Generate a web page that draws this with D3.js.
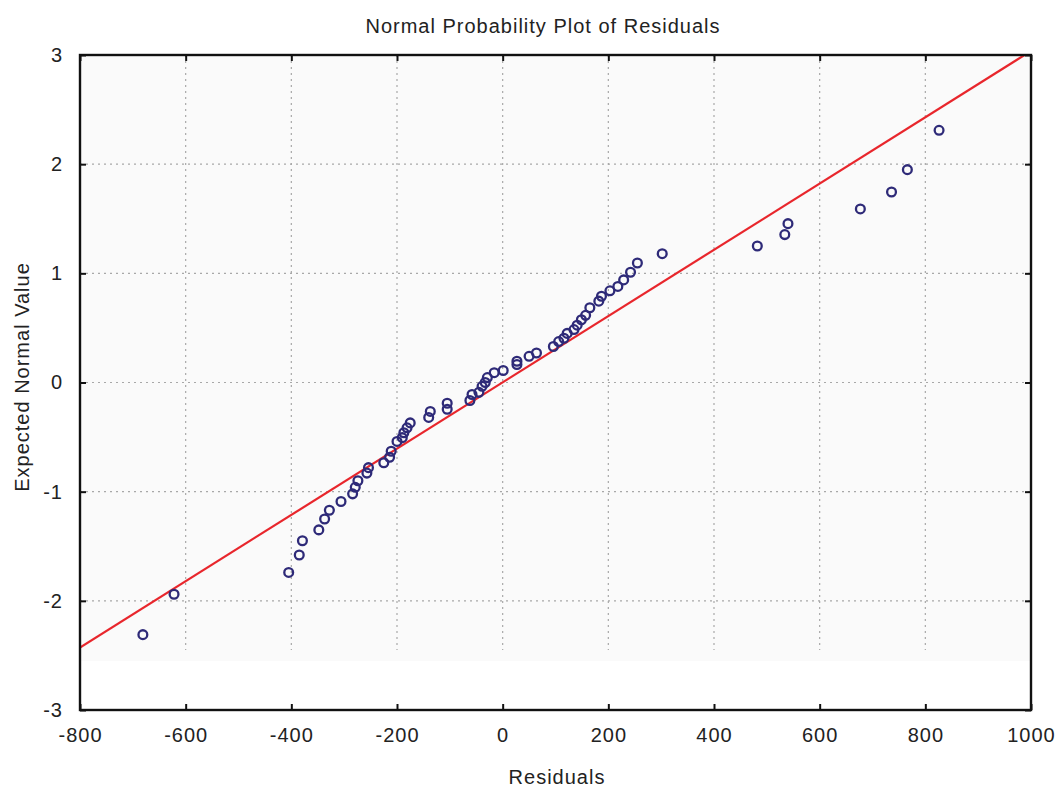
<!DOCTYPE html>
<html>
<head>
<meta charset="utf-8">
<script src="https://cdn.jsdelivr.net/npm/d3@7/dist/d3.min.js"></script>
<style>
  html, body { margin: 0; padding: 0; background: #fff; }
  svg text { font-family: "Liberation Sans", Arial, sans-serif; fill: #222; }
</style>
</head>
<body>
<svg id="chart" width="1062" height="788"></svg>
<script>
// ---- data ----
const residuals = [
  -681, -622, -405, -385, -379, -348, -337, -328, -306, -284,
  -279, -274, -257, -254, -225, -214, -211, -200, -190, -187,
  -181, -175, -140, -137, -105, -105, -62, -58, -45, -39,
  -33, -29, -16, 1, 27, 27, 50, 64, 96, 106,
  116, 122, 135, 141, 149, 157, 165, 182, 187, 203,
  218, 229, 242, 255, 302, 482, 534, 540, 677, 736,
  766, 826
];
const expectedNormal = [
  -2.31, -1.94, -1.74, -1.58, -1.45, -1.35, -1.25, -1.17, -1.09, -1.02,
  -0.96, -0.90, -0.83, -0.78, -0.735, -0.685, -0.63, -0.54, -0.505, -0.46,
  -0.415, -0.37, -0.32, -0.265, -0.245, -0.19, -0.165, -0.11, -0.09, -0.035,
  0.0, 0.045, 0.09, 0.11, 0.165, 0.195, 0.24, 0.27, 0.33, 0.375,
  0.405, 0.45, 0.485, 0.525, 0.575, 0.615, 0.685, 0.745, 0.79, 0.84,
  0.88, 0.94, 1.01, 1.095, 1.18, 1.25, 1.355, 1.455, 1.59, 1.745,
  1.95, 2.31
];
const fitX = [-800, 1000];
const fitY = [-2.427, 3.037];
const xTicks = [-800, -600, -400, -200, 0, 200, 400, 600, 800, 1000];
const yTicks = [-3, -2, -1, 0, 1, 2, 3];
const xGridTicks = [-600, -400, -200, 0, 200, 400, 600, 800];
const yGridTicks = [-2, -1, 0, 1, 2];
const title = "Normal Probability Plot of Residuals";
const xTitle = "Residuals";
const yTitle = "Expected Normal Value";

// ---- layout ----
const svg = d3.select("#chart");
const L = 80, R = 1031, T = 55, B = 710;
const x = d3.scaleLinear().domain([-800, 1000]).range([L, R]);
const y = d3.scaleLinear().domain([-3, 3]).range([B, T]);

const fontSize = 20, ls = "1px";
const fmt = d => String(d);

// background tint (scan tone)
svg.append("rect")
  .attr("x", L).attr("y", y(3))
  .attr("width", R - L).attr("height", y(-2.55) - y(3))
  .attr("fill", "#fafafa");

svg.append("defs").append("clipPath").attr("id", "clip")
  .append("rect").attr("x", L).attr("y", T).attr("width", R - L).attr("height", B - T);

// grid
const grid = svg.append("g").attr("stroke", "#a8a8a8").attr("stroke-width", 1.2)
  .attr("stroke-dasharray", "2,4");
grid.selectAll("line.v").data(xGridTicks).join("line")
  .attr("x1", d => x(d)).attr("x2", d => x(d))
  .attr("y1", y(3)).attr("y2", y(-2.45));
grid.selectAll("line.h").data(yGridTicks).join("line")
  .attr("x1", L).attr("x2", R)
  .attr("y1", d => y(d)).attr("y2", d => y(d));

// fit line
svg.append("g").attr("clip-path", "url(#clip)")
  .append("line")
  .attr("x1", x(fitX[0])).attr("y1", y(fitY[0]))
  .attr("x2", x(fitX[1])).attr("y2", y(fitY[1]))
  .attr("stroke", "#e8262c").attr("stroke-width", 2.2);

// points
const pts = residuals.map((r, i) => ({ r, e: expectedNormal[i] }));
svg.append("g").selectAll("circle").data(pts).join("circle")
  .attr("cx", d => x(d.r)).attr("cy", d => y(d.e))
  .attr("r", 4.4)
  .attr("fill", "none")
  .attr("stroke", "#2e2a78")
  .attr("stroke-width", 2.3);

// axes (ticks inward)
const tickLen = 6;
const styleText = g => g.selectAll("text").attr("font-size", fontSize).attr("letter-spacing", ls)
  .attr("font-family", "Liberation Sans, Arial, sans-serif").attr("fill", "#222");
svg.append("g").attr("transform", `translate(0,${B})`)
  .call(d3.axisBottom(x).tickValues(xTicks).tickSizeInner(-tickLen).tickSizeOuter(0).tickPadding(18).tickFormat(fmt))
  .call(g => g.select(".domain").remove())
  .call(g => g.selectAll("line").attr("stroke", "#111").attr("stroke-width", 2))
  .call(styleText);
svg.append("g").attr("transform", `translate(0,${T})`)
  .call(d3.axisTop(x).tickValues(xTicks).tickSizeInner(-tickLen).tickSizeOuter(0).tickFormat(""))
  .call(g => g.select(".domain").remove())
  .call(g => g.selectAll("line").attr("stroke", "#111").attr("stroke-width", 2));
svg.append("g").attr("transform", `translate(${L},0)`)
  .call(d3.axisLeft(y).tickValues(yTicks).tickSizeInner(-tickLen).tickSizeOuter(0).tickPadding(17).tickFormat(fmt))
  .call(g => g.select(".domain").remove())
  .call(g => g.selectAll("line").attr("stroke", "#111").attr("stroke-width", 2))
  .call(styleText);
svg.append("g").attr("transform", `translate(${R},0)`)
  .call(d3.axisRight(y).tickValues(yTicks).tickSizeInner(-tickLen).tickSizeOuter(0).tickFormat(""))
  .call(g => g.select(".domain").remove())
  .call(g => g.selectAll("line").attr("stroke", "#111").attr("stroke-width", 2));

// frame
svg.append("rect")
  .attr("x", L).attr("y", T).attr("width", R - L).attr("height", B - T)
  .attr("fill", "none").attr("stroke", "#111").attr("stroke-width", 2.4);

// titles
svg.append("text").attr("x", 543).attr("y", 33)
  .attr("text-anchor", "middle").attr("font-size", fontSize).attr("letter-spacing", ls)
  .text(title);
svg.append("text").attr("x", 557).attr("y", 784)
  .attr("text-anchor", "middle").attr("font-size", fontSize).attr("letter-spacing", ls)
  .text(xTitle);
svg.append("text")
  .attr("transform", "translate(29,377) rotate(-90)")
  .attr("text-anchor", "middle").attr("font-size", fontSize).attr("letter-spacing", ls)
  .text(yTitle);
</script>
</body>
</html>
